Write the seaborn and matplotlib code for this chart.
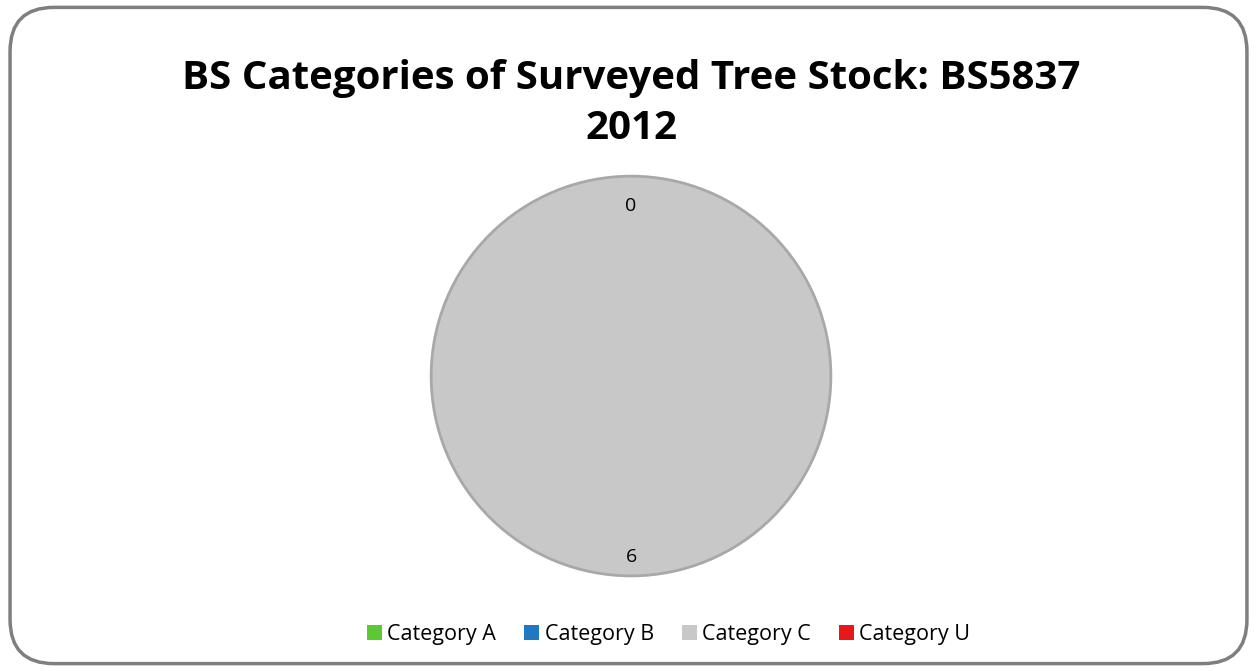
import matplotlib
matplotlib.use("Agg")
from matplotlib import pyplot as plt
from matplotlib.patches import FancyBboxPatch, Patch, Circle
import numpy as np
import seaborn as sns

# data
categories = ["Category A", "Category B", "Category C", "Category U"]
tree_counts = [0, 0, 6, 0]
colours = ["#5BC834", "#1F78C1", "#C8C8C8", "#E81818"]

sns.set_theme(style="white")
plt.rcParams['font.family'] = ['Open Sans', 'DejaVu Sans']

fig = plt.figure(figsize=(12.57, 6.71), dpi=100)
fig.patch.set_facecolor("white")

# rounded chart frame
frame = FancyBboxPatch((0.008, 0.011), 0.984, 0.978, boxstyle="round,pad=0,rounding_size=0.035",
                       transform=fig.transFigure, facecolor="none", edgecolor="#7F7F7F",
                       linewidth=2.5, mutation_aspect=1257 / 671, zorder=5)
fig.patches.append(frame)

fig.text(0.502, 0.846, "BS Categories of Surveyed Tree Stock: BS5837\n2012", ha="center", va="center",
         fontsize=29, fontweight="bold", linespacing=1.38, color="black")

ax = fig.add_axes([0.343, 0.1416, 0.318, 0.596])
total = sum(tree_counts)
wedges, texts = ax.pie(tree_counts, colors=colours, startangle=90, counterclock=False,
                       wedgeprops=dict(linewidth=0, clip_on=False), radius=1.0)
# soft shadow ring around pie
ax.add_patch(Circle((0, 0), 1.0, facecolor="none", edgecolor="#A8A8A8", linewidth=2.0,
                    zorder=3, clip_on=False))

# value labels at mid angle of each slice (inside end), one per position
angle = 90.0
placed = set()
for v in tree_counts:
    span = 360.0 * v / total
    mid = np.deg2rad(angle - span / 2)
    r = 0.85 if v == 0 else 0.905
    x, y = r * np.cos(mid), r * np.sin(mid)
    key = (round(x, 3), round(y, 3))
    if key not in placed:
        ax.text(x, y, f"{v}", ha="center", va="center", fontsize=14, color="black")
        placed.add(key)
    angle -= span
ax.set_xlim(-1.0, 1.0)
ax.set_ylim(-1.0, 1.0)
ax.set_aspect("equal")
ax.axis("off")

handles = [Patch(facecolor=c, edgecolor="none") for c in colours]
fig.legend(handles, categories, loc="center", bbox_to_anchor=(0.532, 0.055), ncol=4, frameon=False,
           fontsize=15.5, handlelength=0.7, handleheight=0.7, handletextpad=0.25, columnspacing=1.3,
           labelcolor="black")

fig.savefig("out.png", dpi=100)
plt.close(fig)
